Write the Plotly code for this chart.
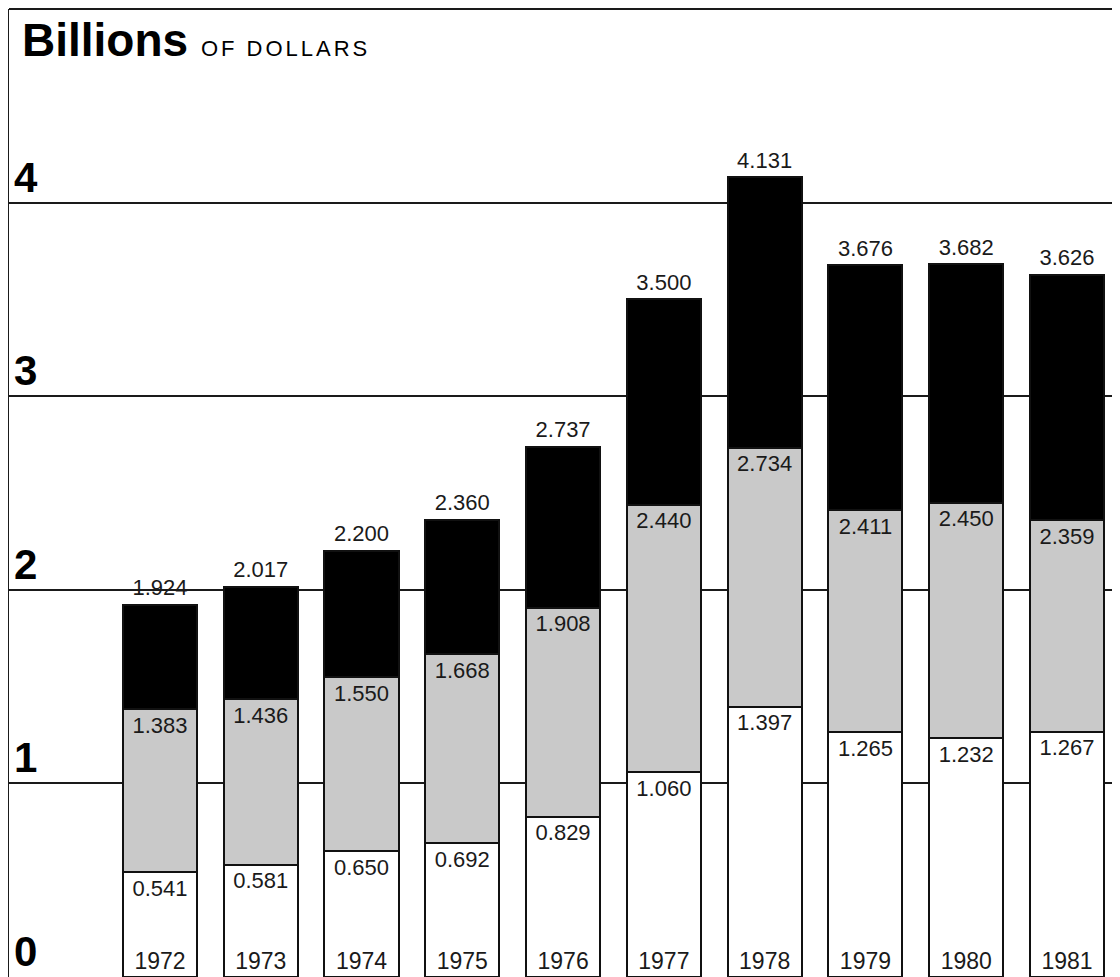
import plotly.graph_objects as go

years = ["1972", "1973", "1974", "1975", "1976", "1977", "1978", "1979", "1980", "1981"]
# cumulative values shown on the chart (top of each segment)
bottom_top = [0.541, 0.581, 0.650, 0.692, 0.829, 1.060, 1.397, 1.265, 1.232, 1.267]
middle_top = [1.383, 1.436, 1.550, 1.668, 1.908, 2.440, 2.734, 2.411, 2.450, 2.359]
totals = [1.924, 2.017, 2.200, 2.360, 2.737, 3.500, 4.131, 3.676, 3.682, 3.626]
y_ticks = [0, 1, 2, 3, 4]

seg_white = bottom_top
seg_gray = [m - b for m, b in zip(middle_top, bottom_top)]
seg_black = [t - m for t, m in zip(totals, middle_top)]

FONT = "Liberation Sans, Arial, Helvetica, sans-serif"
INK = "#1a1a1a"
BW = 0.735
W, H = 1112, 969   # page body has an 8px margin

fig = go.Figure()
for vals, col in [(seg_white, "white"), (seg_gray, "#c9c9c9"), (seg_black, "#000000")]:
    fig.add_trace(go.Bar(
        x=years, y=vals, width=BW, marker=dict(color=col, line=dict(color="#111", width=2)),
        hoverinfo="skip", showlegend=False))

lab_font = dict(family=FONT, size=22, color=INK)
fig.add_trace(go.Scatter(x=years, y=totals, mode="markers+text", marker=dict(size=5, color="rgba(0,0,0,0)"),
                         text=[f"{v:.3f}" for v in totals],
                         textposition="top center", textfont=lab_font, showlegend=False, hoverinfo="skip"))
fig.add_trace(go.Scatter(x=years, y=middle_top, mode="markers+text", marker=dict(size=10, color="rgba(0,0,0,0)"),
                         text=[f"{v:.3f}" for v in middle_top],
                         textposition="bottom center", textfont=lab_font, showlegend=False, hoverinfo="skip"))
fig.add_trace(go.Scatter(x=years, y=bottom_top, mode="markers+text", marker=dict(size=10, color="rgba(0,0,0,0)"),
                         text=[f"{v:.3f}" for v in bottom_top],
                         textposition="bottom center", textfont=lab_font, showlegend=False, hoverinfo="skip"))

# y-axis value labels sit just above each gridline, inside the frame
for v in y_ticks:
    fig.add_annotation(x=0, xref="paper", y=v, yref="y", text=f"<b>{v}</b>", showarrow=False,
                       xanchor="left", yanchor="bottom", xshift=3, yshift=0,
                       font=dict(family=FONT, size=42, color="#000"))

fig.update_layout(
    width=W, height=H,
    margin=dict(l=1, r=0, t=1, b=0),
    plot_bgcolor="white", paper_bgcolor="white",
    barmode="stack",
    title=dict(
        text="<b>Billions</b> <span style='font-size:22px;font-weight:normal;letter-spacing:3px'>OF DOLLARS</span>",
        font=dict(family=FONT, size=46, color="#000"),
        x=14 / W, xanchor="left", xref="container",
        y=1 - 32 / H, yanchor="middle", yref="container"),
    xaxis=dict(
        type="category", range=[-1.498, 9.526], showgrid=False, zeroline=False, automargin=False,
        ticks="", ticklabelposition="inside", showline=False, ticklabeloverflow="allow",
        tickfont=dict(family=FONT, size=23, color=INK)),
    yaxis=dict(
        range=[0, 5], tickvals=y_ticks, showticklabels=False, automargin=False,
        showgrid=True, gridcolor="#1a1a1a", gridwidth=2, zeroline=False,
        showline=True, linecolor="#1a1a1a", linewidth=2, ticks=""),
    shapes=[dict(type="line", xref="paper", yref="paper", x0=0, x1=1, y0=1, y1=1,
                 line=dict(color="#1a1a1a", width=2))],
)

fig.write_html("out.html")
